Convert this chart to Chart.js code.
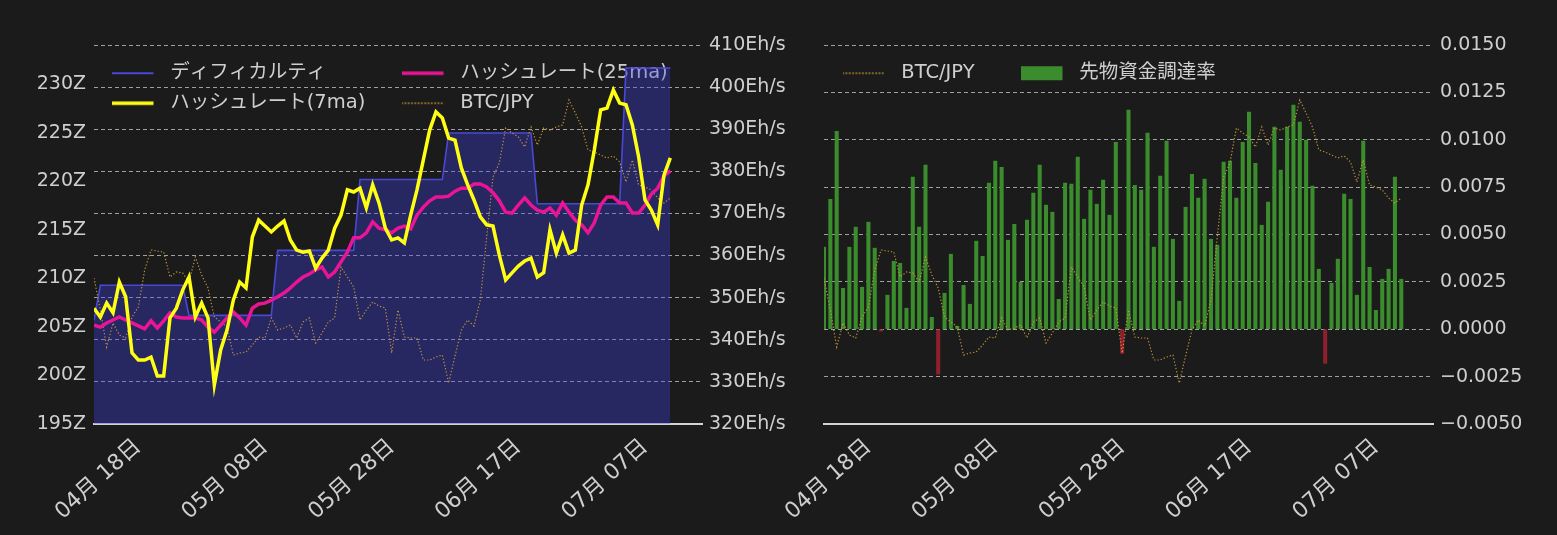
<!DOCTYPE html>
<html><head><meta charset="utf-8">
<script src="https://cdn.jsdelivr.net/npm/chart.js@4.4.1/dist/chart.umd.min.js"></script>
<style>
html,body{margin:0;padding:0;background:#1b1b1b;}
#wrap{position:relative;width:1557px;height:535px;overflow:hidden;background:#1b1b1b;}
#c1{position:absolute;left:0;top:0;}
#c2{position:absolute;left:740px;top:0;}
</style></head><body>
<div id="wrap"><canvas id="c1" width="800" height="535"></canvas><canvas id="c2" width="817" height="535"></canvas></div>
<script>
// ---- data (day index 0 = first day of the series) ----
const tickDays = [7, 27, 47, 67, 87];
const tickLabels = ['04月 18日', '05月 08日', '05月 28日', '06月 17日', '07月 07日'];

const difficulty = [
  205.7,
  209.3,209.3,209.3,209.3,209.3,209.3,209.3,209.3,209.3,209.3,209.3,209.3,209.3,209.3,
  206.2,206.2,206.2,206.2,206.2,206.2,206.2,206.2,206.2,206.2,206.2,206.2,206.2,206.2,
  212.9,212.9,212.9,212.9,212.9,212.9,212.9,212.9,212.9,212.9,212.9,212.9,212.9,
  220.2,220.2,220.2,220.2,220.2,220.2,220.2,220.2,220.2,220.2,220.2,220.2,220.2,220.2,
  225.0,225.0,225.0,225.0,225.0,225.0,225.0,225.0,225.0,225.0,225.0,225.0,225.0,225.0,
  217.7,217.7,217.7,217.7,217.7,217.7,217.7,217.7,217.7,217.7,217.7,217.7,217.7,217.7,
  231.7,231.7,231.7,231.7,231.7,231.7,231.7,231.7
];

const hashrate7 = [
  347.5,345.4,348.7,346.4,353.7,350.2,336.9,335.2,335.2,335.9,
  331.4,331.4,345.2,347.5,351.8,354.9,345.4,348.7,345.2,329.3,
  337.6,342.3,349.4,353.7,352.3,364.4,368.4,367.0,365.6,367.0,
  368.2,363.7,361.3,360.8,361.1,357.0,359.4,361.3,366.5,369.6,
  375.6,375.1,376.0,371.3,376.8,372.5,366.5,363.7,364.2,363.0,
  369.6,375.6,382.7,389.8,394.1,392.7,387.9,387.4,380.8,376.8,
  373.2,369.2,367.3,367.0,360.1,354.2,355.9,357.5,358.7,359.4,
  354.9,355.9,366.1,360.6,364.9,360.6,361.3,372.0,376.8,385.1,
  394.6,395.0,399.3,396.2,395.8,391.0,383.4,373.2,370.8,367.3,
  379.1,383.2
];

const hashrate25 = [
  343.5,343.0,344.0,344.7,345.4,344.7,344.0,343.3,342.6,344.5,
  342.8,344.5,346.4,345.4,345.2,345.2,345.2,344.7,343.0,341.8,
  343.5,345.2,346.6,345.2,343.5,347.5,348.5,348.7,349.4,350.2,
  351.1,352.3,353.7,354.9,355.6,356.6,357.3,354.9,356.1,358.5,
  360.8,364.2,364.2,365.4,368.0,366.5,366.1,365.4,366.5,367.0,
  366.3,369.6,371.5,373.0,373.9,373.9,374.1,375.3,376.0,376.0,
  377.0,377.0,376.3,374.9,373.0,370.3,370.1,372.0,373.7,372.0,
  370.8,370.3,371.3,369.6,372.5,370.3,368.4,367.3,365.4,367.8,
  372.0,373.9,373.9,372.5,372.5,370.1,370.1,372.0,374.6,376.0,
  378.9,380.1
];

const btcJpy = [
  3815000,3735000,3642500,3702500,3672500,3665000,3717500,3742500,3835000,3885000,
  3882500,3880000,3817500,3830000,3827500,3805000,3867500,3822500,3790000,3717500,
  3705000,3692500,3622500,3627500,3630000,3647500,3667500,3665000,3715000,3685000,
  3690000,3697500,3665000,3705000,3715000,3652500,3677500,3705000,3715000,3842500,
  3817500,3792500,3710000,3735000,3755000,3745000,3740000,3627500,3735000,3667500,
  3665000,3665000,3610000,3610000,3617500,3622500,3552500,3620000,3685000,3710000,
  3695000,3760000,3917500,4067500,4102500,4190000,4177500,4167500,4142500,4192500,
  4147500,4190000,4185000,4192500,4197500,4260000,4227500,4192500,4135000,4130000,
  4122500,4115000,4120000,4105000,4055000,4110000,4047500,4042500,4035000,4015000,
  4002500,4015000
];

const fundingRate = [
  0.00433,0.00686,0.01045,0.00216,0.00433,0.00539,0.00222,0.00565,0.00428,-0.00010,
  0.00180,0.00359,0.00348,0.00111,0.00803,0.00539,0.00866,0.00063,-0.00237,0.00190,
  0.00396,0.00016,0.00232,0.00132,0.00465,0.00385,0.00771,0.00887,0.00855,0.00470,
  0.00554,0.00248,0.00576,0.00718,0.00866,0.00655,0.00618,0.00158,0.00771,0.00766,
  0.00908,0.00581,0.00734,0.00660,0.00787,0.00602,0.00987,-0.00127,0.01156,0.00760,
  0.00734,0.01035,0.00433,0.00808,0.00993,0.00475,0.00148,0.00644,0.00818,0.00692,
  0.00792,0.00475,0.00444,0.00882,0.00887,0.00692,0.00987,0.01146,0.00876,0.00549,
  0.00671,0.01067,0.00840,0.01067,0.01183,0.01093,0.00998,0.00755,0.00317,-0.00180,
  0.00243,0.00370,0.00713,0.00686,0.00180,0.00993,0.00327,0.00100,0.00264,0.00317,
  0.00803,0.00264
];

// ---- styling ----
const FONT = '"DejaVu Sans", "Noto Sans CJK JP", sans-serif';
const TEXT = '#cfcfcf';
const GRID = 'rgba(205,205,205,0.75)';
const GREEN = '#3b8c2c';
const RED = '#8e1f2d';
const BTC_COLOR = 'rgba(205,155,60,0.9)';
const BTC_MIN = 3450000, BTC_MAX = 4397500;
const SW_W = 49, SW_LINE = 42;

const pts = arr => arr.map((v, i) => ({x: i, y: v}));

// legend swatch drawn into a small canvas used as the legend point style
function swatch(kind, color, width, dash) {
  const c = document.createElement('canvas');
  c.width = SW_W; c.height = 16;
  const g = c.getContext('2d');
  if (kind === 'rect') {
    g.fillStyle = color; g.fillRect(0, 1, SW_LINE, 14);
  } else {
    g.strokeStyle = color; g.lineWidth = width; g.setLineDash(dash || []);
    g.beginPath(); g.moveTo(0, 8); g.lineTo(SW_LINE, 8); g.stroke();
  }
  return c;
}

// place the legend inside the plot area, laid out in columns
const insideLegend = {
  id: 'insideLegend',
  beforeLayout(chart, args, opts) {
    const lg = chart.legend;
    if (!lg || lg.__inside) return;
    lg.__inside = true;
    const orig = lg.update;
    lg.update = function (maxW, maxH, margins) {
      orig.call(this, maxW, opts.height, margins);
      this.width = 0; this.height = 0;
    };
  },
  afterLayout(chart, args, opts) {
    const lg = chart.legend, ca = chart.chartArea;
    lg.left = ca.left + opts.dx;
    lg.top = ca.top + opts.dy;
    lg.width = opts.width; lg.height = opts.height;
    lg.right = lg.left + opts.width;
    lg.bottom = lg.top + opts.height;
    if (lg.columnSizes) lg.columnSizes.forEach((c, i) => { if (opts.colWidths[i] != null) c.width = opts.colWidths[i]; });
  }
};

function legendItems(chart) {
  return chart.data.datasets.map((ds, i) => {
    const isBar = ds.type === 'bar';
    return {
      text: ds.label, datasetIndex: i, hidden: false, fontColor: TEXT, rotation: 0,
      pointStyle: isBar ? swatch('rect', GREEN) : swatch('line', ds.borderColor, Math.max(ds.borderWidth, 2), ds.borderDash),
      fillStyle: 'rgba(0,0,0,0)', strokeStyle: 'rgba(0,0,0,0)', lineWidth: 0
    };
  });
}

function legendOpts() {
  return {
    position: 'left', align: 'start',
    labels: {
      usePointStyle: true, pointStyleWidth: SW_W, boxHeight: 14, padding: 10.5,
      color: TEXT, font: {family: FONT, size: 19.5}, generateLabels: legendItems
    }
  };
}

function xScale() {
  return {
    type: 'linear', min: 0, max: 96, offset: false,
    grid: {display: false, offset: false, drawTicks: false},
    border: {display: true, color: '#d4d4d4', width: 2},
    afterBuildTicks: s => { s.ticks = tickDays.map(v => ({value: v})); },
    afterFit: s => { s.height = 111; s.paddingLeft = 0; s.paddingRight = 0; },
    ticks: {
      autoSkip: false, minRotation: 42, maxRotation: 42, padding: 10,
      color: TEXT, font: {family: FONT, size: 22},
      callback: v => tickLabels[tickDays.indexOf(v)]
    }
  };
}

const tickFont = {family: FONT, size: 19};

// ---- left chart ----
new Chart(document.getElementById('c1'), {
  type: 'line',
  data: {
    datasets: [
      {type: 'line', label: 'ディフィカルティ', data: pts(difficulty), yAxisID: 'y', order: 4,
       borderColor: '#4949d6', borderWidth: 1.6, backgroundColor: 'rgba(62,62,230,0.35)',
       fill: 'start', pointRadius: 0, tension: 0},
      {type: 'line', label: 'ハッシュレート(7ma)', data: pts(hashrate7), yAxisID: 'y1', order: 1,
       borderColor: '#ffff14', borderWidth: 3.5, pointRadius: 0, tension: 0, fill: false},
      {type: 'line', label: 'ハッシュレート(25ma)', data: pts(hashrate25), yAxisID: 'y1', order: 2,
       borderColor: '#ea1496', borderWidth: 3.5, pointRadius: 0, tension: 0, fill: false},
      {type: 'line', label: 'BTC/JPY', data: pts(btcJpy), yAxisID: 'yb', order: 3,
       borderColor: BTC_COLOR, borderWidth: 1.2, borderDash: [1.3, 2], pointRadius: 0, tension: 0, fill: false}
    ]
  },
  options: {
    responsive: false, animation: false, events: [],
    layout: {padding: {top: 45, left: 0, right: 0, bottom: 0}},
    plugins: {
      tooltip: {enabled: false},
      legend: legendOpts(),
      insideLegend: {dx: 7, dy: 8, height: 85, width: 620, colWidths: [279.5]}
    },
    scales: {
      x: xScale(),
      y: {position: 'left', min: 195, max: 234.07,
          grid: {display: false, drawTicks: false}, border: {display: false},
          ticks: {stepSize: 5, includeBounds: false, padding: 8, color: TEXT, font: tickFont, callback: v => v + 'Z'},
          afterFit: s => { s.width = 94; }},
      y1: {position: 'right', min: 320, max: 410,
           grid: {color: GRID, lineWidth: 1, drawTicks: false},
           border: {display: false, dash: [4, 3]},
           ticks: {stepSize: 10, padding: 7, color: TEXT, font: tickFont, callback: v => v + 'Eh/s'},
           afterFit: s => { s.width = 98; }},
      yb: {display: false, min: BTC_MIN, max: BTC_MAX}
    }
  },
  plugins: [insideLegend]
});

// ---- right chart ----
new Chart(document.getElementById('c2'), {
  type: 'bar',
  data: {
    datasets: [
      {type: 'line', label: 'BTC/JPY', data: pts(btcJpy), yAxisID: 'yb', order: 1,
       borderColor: BTC_COLOR, borderWidth: 1.2, borderDash: [1.3, 2], pointRadius: 0, tension: 0, fill: false},
      {type: 'bar', label: '先物資金調達率', data: pts(fundingRate), yAxisID: 'y', order: 2,
       backgroundColor: fundingRate.map(v => v >= 0 ? GREEN : RED), barThickness: 3.4, borderWidth: 0}
    ]
  },
  options: {
    responsive: false, animation: false, events: [],
    layout: {padding: {top: 45, left: 84, right: 0, bottom: 0}},
    plugins: {
      tooltip: {enabled: false},
      legend: legendOpts(),
      insideLegend: {dx: 8, dy: 8, height: 50, width: 560, colWidths: [167.5]}
    },
    scales: {
      x: xScale(),
      y: {position: 'right', min: -0.005, max: 0.015,
          grid: {color: GRID, lineWidth: 1, drawTicks: false},
          border: {display: false, dash: [4, 3]},
          ticks: {stepSize: 0.0025, padding: 7, color: TEXT, font: tickFont,
                  callback: v => Math.abs(v) < 1e-9 ? '0.0000' : (v < 0 ? '\u2212' + Math.abs(v).toFixed(4) : v.toFixed(4))},
          afterFit: s => { s.width = 124; }},
      yb: {display: false, min: BTC_MIN, max: BTC_MAX}
    }
  },
  plugins: [insideLegend]
});
</script>
</body></html>
